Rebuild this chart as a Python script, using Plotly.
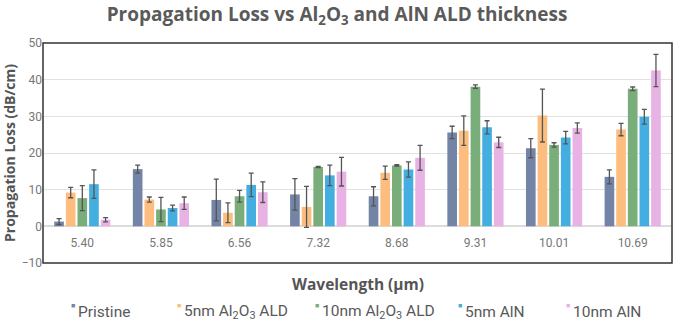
import plotly.graph_objects as go

wavelengths = ["5.40", "5.85", "6.56", "7.32", "8.68", "9.31", "10.01", "10.69"]

series_names = ["Pristine", "5nm Al<sub>2</sub>O<sub>3</sub> ALD", "10nm Al<sub>2</sub>O<sub>3</sub> ALD",
                "5nm AlN", "10nm AlN"]

pristine = [1.3, 15.6, 7.2, 8.7, 8.2, 25.6, 21.3, 13.5]
pristine_err = [0.8, 1.1, 5.7, 4.3, 2.6, 1.7, 2.6, 1.9]

al2o3_5 = [9.2, 7.3, 3.7, 5.3, 14.6, 26.1, 30.2, 26.4]
al2o3_5_err = [1.4, 0.7, 2.7, 5.6, 1.8, 4.0, 7.2, 1.7]

al2o3_10 = [7.7, 4.6, 8.2, 16.2, 16.6, 38.1, 22.2, 37.5]
al2o3_10_err = [3.4, 3.3, 1.6, 0.15, 0.2, 0.5, 0.6, 0.5]

aln_5 = [11.5, 5.0, 11.3, 13.9, 15.5, 27.0, 24.2, 29.9]
aln_5_err = [3.9, 0.8, 3.2, 2.8, 2.1, 1.8, 1.7, 2.0]

aln_10 = [1.8, 6.3, 9.3, 14.9, 18.7, 22.9, 26.8, 42.5]
aln_10_err = [0.6, 1.7, 2.8, 3.9, 3.4, 1.4, 1.4, 4.4]

values = [pristine, al2o3_5, al2o3_10, aln_5, aln_10]
errors = [pristine_err, al2o3_5_err, al2o3_10_err, aln_5_err, aln_10_err]
colors = ["#7384a6", "#fdbd7e", "#79ad79", "#44aee0", "#e8b2e4"]

W, H = 674, 324
L, R, T, B = 43, 2, 43, 61
plot_w = W - L - R
plot_h = H - T - B

fig = go.Figure()
for name, v, e, c in zip(series_names, values, errors, colors):
    fig.add_trace(go.Bar(
        x=wavelengths, y=v, name=name, marker_color=c, marker_line_width=0,
        error_y=dict(type="data", array=e, visible=True, color="#555555", thickness=1.3, width=2.5),
        showlegend=False,
    ))

# legend drawn as annotations (marker + label), positions in page pixels
legend_px = [73, 179, 317, 460, 568]
legend_y_px = 312
annotations = []
for name, c, px in zip(series_names, colors, legend_px):
    xp = (px - L) / plot_w
    yp = (H - B - legend_y_px) / plot_h
    annotations.append(dict(text="■", xref="paper", yref="paper", x=xp, y=yp + 6 / plot_h,
                            xanchor="center", yanchor="middle", showarrow=False,
                            font=dict(size=7, color=c)))
    annotations.append(dict(text=name, xref="paper", yref="paper", x=xp + 3 / plot_w, y=yp,
                            xanchor="left", yanchor="middle", showarrow=False,
                            font=dict(size=15.5, color="#595959", family="Roboto, Arial, sans-serif")))

annotations.append(dict(text="<b>Wavelength (μm)</b>", xref="paper", yref="paper",
                        x=0.5, y=(H - B - 284) / plot_h, xanchor="center", yanchor="middle",
                        showarrow=False,
                        font=dict(size=15.5, color="#555555", family="Open Sans, Arial, sans-serif")))

fig.update_layout(
    width=W, height=H,
    margin=dict(l=L, r=R, t=T, b=B),
    paper_bgcolor="white", plot_bgcolor="white",
    barmode="group", bargap=0.26, bargroupgap=0.17,
    showlegend=False,
    font=dict(family="Roboto, Arial, sans-serif", color="#777777"),
    title=dict(text="<b>Propagation Loss vs Al<sub>2</sub>O<sub>3</sub> and AlN ALD thickness</b>",
               x=0.5, xanchor="center", y=1 - 14 / H, yanchor="middle",
               font=dict(size=19, color="#5a5a5a", family="Open Sans, Arial, sans-serif")),
    xaxis=dict(type="category", anchor="free", position=1/6, showline=False, showgrid=False,
               ticks="outside", ticklen=5, tickcolor="rgba(0,0,0,0)",
               tickfont=dict(size=12, color="#777777")),
    yaxis=dict(range=[-10, 50], dtick=10, showgrid=True, gridcolor="#e2e2e2", gridwidth=1,
               zeroline=True, zerolinecolor="#dcdcdc", zerolinewidth=1.5,
               tickfont=dict(size=12, color="#777777"), ticks="",
               title=dict(text="<b>Propagation Loss (dB/cm)</b>", standoff=4,
                          font=dict(size=14, color="#555555", family="Open Sans, Arial, sans-serif"))),
    shapes=[dict(type="rect", xref="paper", yref="paper", x0=0, x1=1, y0=0, y1=1,
                 line=dict(color="#333333", width=1.5), layer="above")],
    annotations=annotations,
)

fig.write_html("out.html")
